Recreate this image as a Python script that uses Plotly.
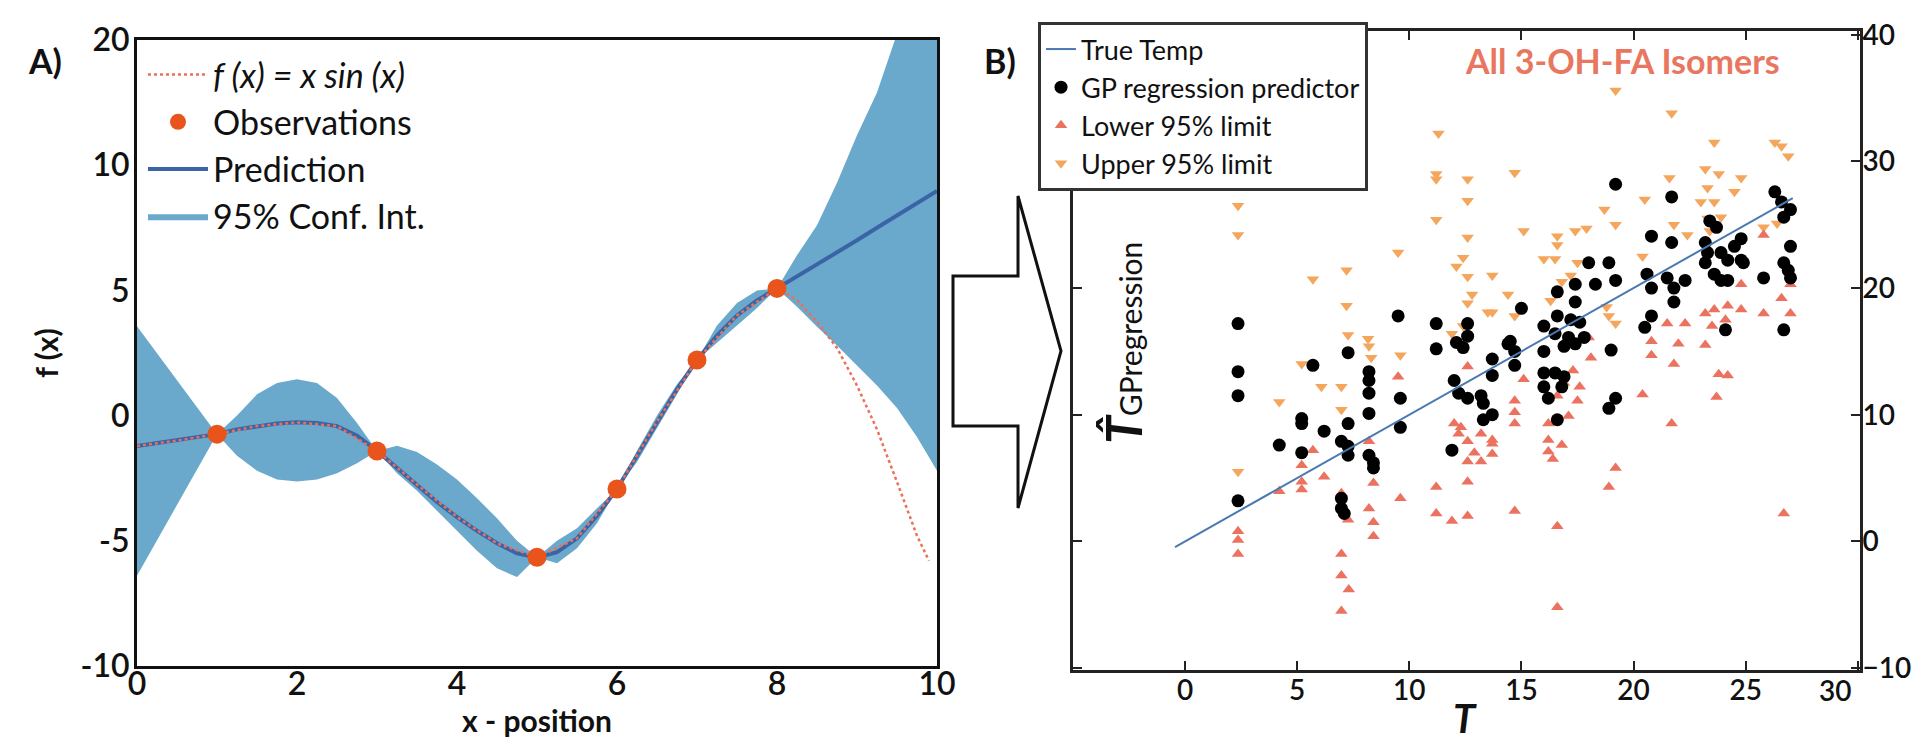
import plotly.graph_objects as go

W, H = 1921, 743
FONT = "Lato"

# ---------------- Panel A data ----------------
grid_x = [0, 0.25, 0.5, 0.75, 1, 1.25, 1.5, 1.75, 2, 2.25, 2.5, 2.75, 3, 3.25, 3.5, 3.75,
          4, 4.25, 4.5, 4.75, 5, 5.25, 5.5, 5.75, 6, 6.25, 6.5, 6.75, 7, 7.25, 7.5, 7.75,
          8, 8.25, 8.5, 8.75, 9, 9.25, 9.5, 9.75, 10]
pred_y = [-1.21, -1.1, -1.0, -0.87, -0.74, -0.55, -0.42, -0.32, -0.27, -0.3, -0.42, -0.8,
          -1.41, -2.1, -2.75, -3.45, -4.05, -4.6, -5.1, -5.5, -5.66, -5.45, -4.9, -4.0,
          -2.93, -1.6, -0.24, 1.05, 2.22, 3.2, 4.0, 4.6, 5.08, 5.55, 6.05, 6.5, 7.0, 7.5,
          8.0, 8.5, 8.97]
band_upper = [3.57, 2.49, 1.4, 0.34, -0.74, 0.0, 0.85, 1.3, 1.45, 1.3, 0.7, -0.3, -1.41, -1.2,
              -1.45, -1.95, -2.55, -3.3, -4.1, -5.0, -5.66, -5.0, -4.5, -3.7, -2.93, -1.4, 0.0,
              1.25, 2.22, 3.6, 4.5, 5.0, 5.08, 6.4, 7.6, 9.3, 11.2, 12.9, 15.2, 17.6, 20.3]
band_lower = [-6.4, -4.98, -3.57, -2.15, -0.74, -1.6, -2.2, -2.55, -2.63, -2.55, -2.3, -1.9,
              -1.41, -2.3, -3.0, -3.8, -4.6, -5.4, -6.1, -6.45, -5.66, -5.9, -5.3, -4.3, -2.93,
              -1.85, -0.5, 0.85, 2.22, 2.9, 3.6, 4.3, 5.08, 4.35, 3.55, 2.8, 2.0, 1.2, 0.3,
              -0.85, -2.2]
true_fx_x = [0, 0.5, 1, 1.5, 2, 2.5, 3, 3.5, 4, 4.5, 5, 5.5, 6, 6.5, 7, 7.5, 8,
             8.25, 8.5, 8.75, 9, 9.25, 9.5, 9.75, 9.9]
true_fx_y = [-1.21, -1.0, -0.74, -0.42, -0.27, -0.42, -1.41, -2.75, -4.05, -5.1, -5.66,
             -4.9, -2.93, -0.24, 2.22, 4.0, 5.08, 4.6, 3.75, 2.7, 1.2, -0.55, -2.65, -4.8, -5.8]
obs_x = [1, 3, 5, 6, 7, 8]
obs_y = [-0.74, -1.41, -5.66, -2.93, 2.22, 5.08]
a_ytick_vals = [-10, -5, 0, 5, 10, 15]
a_ytick_text = ["-10", "-5", "0", "5", "10", "20"]
a_xtick_vals = [0, 2, 4, 6, 8, 10]

# ---------------- Panel B data ----------------
true_temp_x = [-0.45, 27.1]
true_temp_y = [-0.45, 27.1]

gp_x = [2.36, 2.36, 2.36, 2.36, 4.2, 5.2, 5.2, 5.2, 5.7, 6.2, 6.97, 7.27, 7.27, 7.27, 7.27,
        6.97, 6.97, 7.1, 8.2, 8.2, 8.2, 8.2, 8.2, 8.4, 8.4, 9.5, 9.6, 9.6, 11.2, 11.2, 11.9,
        12.0, 12.1, 12.4, 12.6, 12.6, 12.2, 12.6, 13.2, 13.3, 13.3, 13.7, 13.7, 13.7, 14.4,
        19.2, 21.7, 20.8, 21.7, 23.4, 23.7, 23.2, 23.3, 23.2, 23.6, 23.9, 24.2, 24.5, 24.8,
        24.8, 24.9, 23.9, 24.2, 25.8, 26.3, 26.6, 27.0, 26.7, 27.0, 26.7, 26.9, 27.0, 26.7,
        24.1, 20.6, 20.8, 21.5, 21.8, 21.8, 22.3, 20.8, 20.5, 19.2, 18.9, 19.0, 19.2, 18.9,
        18.0, 18.3, 17.4, 16.6, 17.4, 16.6, 17.2, 17.6, 16.0, 16.5, 17.1, 17.8, 16.9, 17.4,
        15.0, 16.0, 16.0, 16.5, 16.9, 16.0, 16.2, 16.8, 16.6, 14.5, 14.7, 14.7]
gp_y = [17.2, 13.4, 11.5, 3.2, 7.6, 9.7, 9.3, 7.0, 13.9, 8.7, 7.9, 14.9, 9.3, 7.5, 6.8,
        3.4, 2.6, 2.2, 13.4, 12.7, 11.7, 10.1, 6.8, 6.2, 5.8, 17.8, 11.3, 9.0, 17.2, 15.2, 7.2,
        12.7, 15.7, 15.3, 17.2, 16.2, 11.7, 11.3, 11.5, 10.9, 9.6, 14.4, 13.1, 10.0, 15.6,
        28.2, 27.2, 24.1, 23.6, 25.3, 24.8, 23.6, 22.8, 22.0, 21.1, 20.6, 20.6, 23.3, 23.9,
        22.2, 22.0, 22.8, 22.2, 20.8, 27.6, 26.8, 26.2, 25.6, 23.3, 22.0, 21.4, 20.8, 16.7,
        16.7, 21.1, 20.0, 20.8, 20.0, 18.9, 20.6, 17.8, 16.9, 11.3, 10.5, 15.1, 20.6, 22.0,
        22.0, 20.3, 20.3, 19.7, 18.9, 17.8, 17.5, 17.3, 17.0, 16.4, 16.1, 16.1, 15.4, 15.6,
        18.4, 15.0, 13.3, 13.3, 13.0, 12.2, 11.3, 12.2, 9.6, 15.8, 15.0, 13.9]

low95_x = [2.36, 2.36, 2.36, 4.2, 5.2, 5.2, 5.2, 5.7, 6.2, 6.97, 6.97, 6.97, 7.3, 6.97, 7.27,
           8.2, 8.4, 8.4, 8.4, 8.2, 9.5, 9.6, 11.2, 11.2, 11.9, 12.6, 12.6, 12.6, 12.0, 12.2,
           12.6, 13.2, 13.7, 13.2, 13.7, 12.6, 14.7, 16.6, 26.7, 19.2, 18.9, 21.7, 20.4, 21.8,
           23.7, 23.8, 24.2, 23.2, 20.8, 20.8, 21.5, 22.3, 23.2, 23.6, 24.2, 24.8, 25.8, 26.6,
           27.0, 27.0, 24.8, 25.8, 17.1, 17.5, 16.2, 16.2, 16.2, 16.9, 14.7, 14.7, 14.7, 13.7,
           15.1, 18.1, 18.0, 16.6, 17.3, 17.6, 16.6, 12.3, 12.9, 22.0, 23.5, 24.1, 16.4, 16.8]
low95_y = [0.8, 0.1, -1.0, 3.95, 6.0, 4.7, 4.1, 7.2, 5.1, 3.8, -1.0, -2.7, -3.8, -5.5, 1.7,
           2.6, 1.5, 0.4, 4.6, 7.9, 13.0, 3.4, 4.3, 2.2, 1.6, 2.0, 4.7, 6.3, 9.3, 8.5,
           7.9, 6.3, 6.9, 8.5, 8.0, 13.8, 2.4, 1.2, 2.2, 5.8, 4.3, 9.3, 11.6, 14.0,
           11.4, 13.2, 13.1, 15.5, 14.7, 15.8, 17.2, 17.2, 18.0, 18.3, 18.6, 18.3, 18.0, 19.2,
           18.0, 20.3, 20.3, 24.2, 9.9, 11.1, 9.3, 8.0, 7.1, 12.5, 11.1, 10.2, 9.3, 7.7,
           12.8, 14.5, 16.1, -5.2, 13.5, 12.2, 11.5, 9.0, 7.0, 15.6, 17.0, 17.5, 6.5, 7.6]

up95_x = [2.36, 2.36, 2.36, 5.7, 4.2, 5.2, 6.08, 6.97, 7.2, 7.2, 7.27, 8.16, 8.2, 6.97, 9.5,
          9.6, 11.2, 11.2, 12.6, 12.6, 12.6, 12.4, 12.1, 12.6, 13.7, 13.7, 12.6, 11.9, 11.3,
          19.2, 21.7, 14.7, 15.1, 16.6, 17.4, 17.9, 18.7, 19.2, 20.5, 21.6, 23.6, 23.8, 23.2,
          23.3, 23.6, 24.8, 24.5, 26.3, 26.9, 26.6, 25.8, 26.4, 23.0, 23.9, 21.8, 22.4, 20.4,
          13.5, 14.4, 14.7, 16.0, 16.6, 16.5, 17.5, 18.9, 19.2, 23.3, 23.4, 16.8, 17.2, 16.3,
          18.8, 12.4, 8.3, 12.8, 11.2]
up95_y = [26.5, 24.2, 5.5, 20.7, 11.0, 14.0, 12.2, 12.2, 21.4, 18.6, 16.3, 16.0, 15.4, 10.4,
          22.8, 14.7, 28.6, 25.4, 28.6, 26.9, 24.0, 22.4, 21.7, 20.9, 21.0, 18.1, 18.8, 16.4,
          32.2, 35.6, 33.8, 29.1, 24.5, 24.1, 24.5, 24.7, 26.2, 25.0, 27.0, 28.7, 31.5, 29.0,
          29.4, 27.9, 26.8, 28.7, 27.6, 31.5, 30.4, 31.2, 24.8, 25.1, 26.8, 25.6, 25.0, 24.2,
          22.5, 18.1, 19.5, 17.8, 22.3, 23.4, 22.3, 22.0, 17.8, 17.2, 25.5, 24.5, 20.5, 21.0,
          19.0, 18.5, 17.0, 14.5, 19.5, 29.0]
b_xtick_vals = [0, 5, 10, 15, 20, 25, 30]
b_xtick_text = ["0", "5", "10", "15", "20", "25", ""]   # "30" is set a little left, as in the original
b_ytick_vals = [-10, 0, 10, 20, 30, 40]

# ---------------- colours ----------------
BAND = "#6aa8cc"
PRED = "#3a64a6"
OBS = "#e8541c"
FX = "#ec6f58"
UPPER = "#f4a65c"
LOWER = "#ec7260"
LINE_B = "#4a78b0"


def px(x):
    return x / W


def py(y):
    return 1 - y / H


fig = go.Figure()

# Panel A traces
fig.add_trace(go.Scatter(
    x=grid_x + grid_x[::-1], y=band_upper + band_lower[::-1], fill="toself",
    fillcolor=BAND, line=dict(width=0, color=BAND), mode="lines",
    name="95% Conf. Int.", legendrank=4, xaxis="x", yaxis="y", hoverinfo="skip"))
fig.add_trace(go.Scatter(
    x=grid_x, y=pred_y, mode="lines", line=dict(color=PRED, width=4),
    name="Prediction", legendrank=3, xaxis="x", yaxis="y"))
fig.add_trace(go.Scatter(
    x=true_fx_x, y=true_fx_y, mode="lines", line=dict(color=FX, width=2.5, dash="dot"),
    name="<i>f (x) = x sin (x)</i>", legendrank=1, xaxis="x", yaxis="y"))
fig.add_trace(go.Scatter(
    x=obs_x, y=obs_y, mode="markers", marker=dict(color=OBS, size=19),
    name="Observations", legendrank=2, xaxis="x", yaxis="y"))

# Panel B traces
fig.add_trace(go.Scatter(
    x=up95_x, y=up95_y, mode="markers",
    marker=dict(symbol="triangle-down", color=UPPER, size=11),
    name="Upper 95% limit", legend="legend2", legendrank=4, xaxis="x2", yaxis="y2"))
fig.add_trace(go.Scatter(
    x=low95_x, y=low95_y, mode="markers",
    marker=dict(symbol="triangle-up", color=LOWER, size=11),
    name="Lower 95% limit", legend="legend2", legendrank=3, xaxis="x2", yaxis="y2"))
fig.add_trace(go.Scatter(
    x=gp_x, y=gp_y, mode="markers", marker=dict(color="black", size=13),
    name="GP regression predictor", legend="legend2", legendrank=2, xaxis="x2", yaxis="y2"))
fig.add_trace(go.Scatter(
    x=true_temp_x, y=true_temp_y, mode="lines", line=dict(color=LINE_B, width=2),
    name="True Temp", legend="legend2", legendrank=1, xaxis="x2", yaxis="y2"))

tickfont = dict(family=FONT, size=32, color="#111", weight=600)
tickfont_b = dict(family=FONT, size=28, color="#111", weight=600)

fig.update_layout(
    width=W, height=H,
    margin=dict(l=0, r=0, t=0, b=0, autoexpand=False),
    paper_bgcolor="white", plot_bgcolor="white",
    font=dict(family=FONT, color="#111"),
    showlegend=True,
    xaxis=dict(domain=[px(129), px(929)], range=[0, 10], tickvals=a_xtick_vals,
               showline=True, linecolor="#111", linewidth=3, mirror=True,
               showgrid=False, zeroline=False, ticks="", tickfont=tickfont,
               ticklabelstandoff=-12,
               title=dict(text="<b>x - position</b>", font=dict(family=FONT, size=30), standoff=2),
               anchor="y"),
    yaxis=dict(domain=[py(658), py(32)], range=[-10, 15], tickvals=a_ytick_vals,
               ticktext=a_ytick_text,
               showline=True, linecolor="#111", linewidth=3, mirror=True,
               showgrid=False, zeroline=False, ticks="", tickfont=tickfont,
               ticklabelstandoff=-2,
               title=dict(text="<b>f (x)</b>", font=dict(family=FONT, size=30), standoff=14),
               anchor="x"),
    xaxis2=dict(domain=[px(1065), px(1852)], range=[-5, 30.1], tickvals=b_xtick_vals,
                ticktext=b_xtick_text,
                showline=True, linecolor="#222", linewidth=3, mirror="ticks",
                showgrid=False, zeroline=False, ticks="inside", ticklen=9, tickwidth=2,
                tickcolor="#222", tickfont=tickfont_b, ticklabelstandoff=-7,
                anchor="y2"),
    yaxis2=dict(domain=[py(662), py(23)], range=[-10.16, 40.3], tickvals=b_ytick_vals,
                side="right", showline=True, linecolor="#222", linewidth=3, mirror="ticks",
                showgrid=False, zeroline=False, ticks="inside", ticklen=9, tickwidth=2,
                tickcolor="#222", tickfont=tickfont_b, ticklabelstandoff=-6,
                anchor="x2"),
    legend=dict(x=px(135), y=py(38), xanchor="left", yanchor="top",
                bgcolor="rgba(255,255,255,0)", borderwidth=0,
                font=dict(family=FONT, size=34, color="#111"),
                itemwidth=60, tracegroupgap=0),
    legend2=dict(x=px(1030), y=py(14), xanchor="left", yanchor="top",
                 bgcolor="white", bordercolor="#333", borderwidth=3,
                 font=dict(family=FONT, size=27, color="#111"),
                 itemwidth=30, tracegroupgap=0),
)

annotations = [
    dict(text="<b>A)</b>", x=px(37), y=py(53), xref="paper", yref="paper",
         xanchor="center", yanchor="middle",
         showarrow=False, font=dict(family=FONT, size=34, color="#111")),
    dict(text="<b>B)</b>", x=px(992), y=py(53), xref="paper", yref="paper",
         xanchor="center", yanchor="middle",
         showarrow=False, font=dict(family=FONT, size=34, color="#111")),
    dict(text="<b>All 3-OH-FA Isomers</b>", x=px(1614), y=py(53), xref="paper", yref="paper",
         xanchor="center", yanchor="middle",
         showarrow=False, font=dict(family=FONT, size=34, color="#e9775f")),
    dict(text="<b><i>T\u0302</i></b><span style='font-size:30px'>GPregression</span>",
         x=px(1115), y=py(335), xref="paper", yref="paper", textangle=-90,
         xanchor="center", yanchor="middle",
         showarrow=False, font=dict(family=FONT, size=50, color="#111")),
    dict(text="<b><i>T</i></b>", x=px(1457), y=py(736), xref="paper", yref="paper",
         xanchor="center", yanchor="bottom",
         showarrow=False, font=dict(family=FONT, size=40, color="#111")),
    dict(text="<span style='font-weight:600'>30</span>", x=px(1827), y=py(682),
         xref="paper", yref="paper", xanchor="center", yanchor="middle",
         showarrow=False, font=dict(family=FONT, size=28, color="#111")),
]
fig.update_layout(annotations=annotations)

# Block arrow between panels
arrow_pts = [(945, 268), (1010, 268), (1010, 188), (1053, 343), (1010, 500), (1010, 418), (945, 418)]
path = "M " + " L ".join(f"{px(a):.5f},{py(b):.5f}" for a, b in arrow_pts) + " Z"
fig.add_shape(type="path", xref="paper", yref="paper", path=path,
              line=dict(color="#111", width=3), fillcolor="rgba(0,0,0,0)")

fig.write_html("out.html")
